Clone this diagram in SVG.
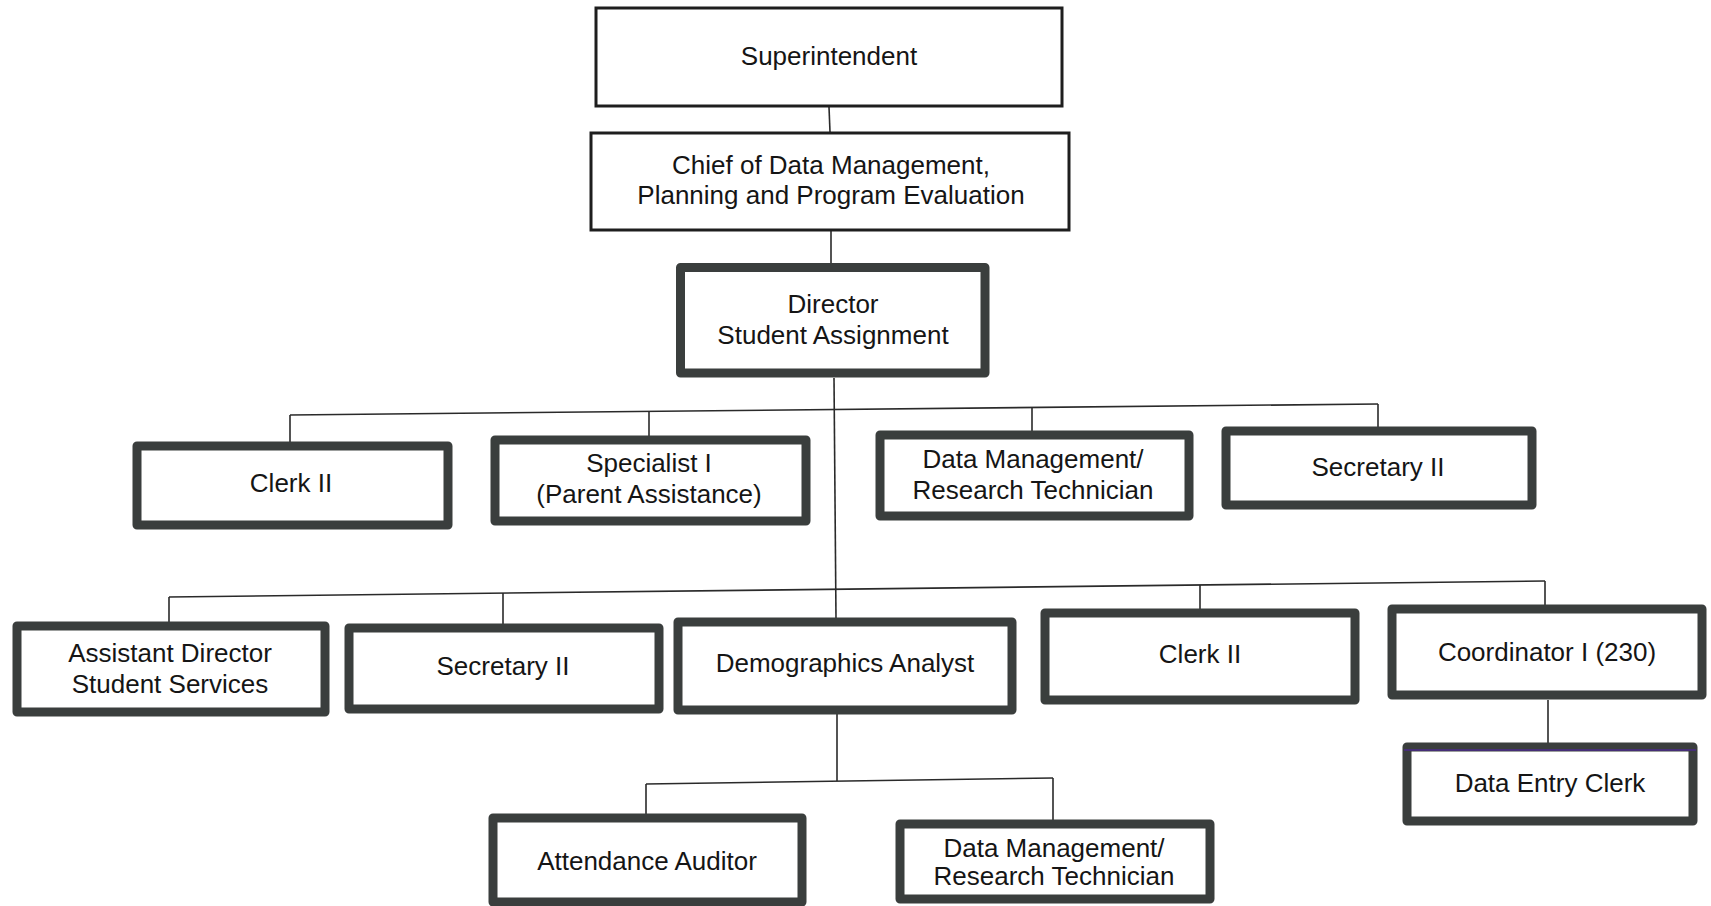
<svg xmlns="http://www.w3.org/2000/svg" width="1711" height="906" viewBox="0 0 1711 906">
<style>
.bg{fill:#ffffff}
.thin{fill:#ffffff;stroke:#1e1e1e;stroke-width:3}
.thick{fill:#ffffff;stroke:#3a3e3d;stroke-width:9;stroke-linejoin:round}
.lbl{font-family:"Liberation Sans",Arial,sans-serif;font-size:26px;fill:#151515;text-anchor:middle}
.con{fill:none;stroke:#2a2a2a;stroke-width:1.6}
</style>
<rect class="bg" x="0" y="0" width="1711" height="906"/>
<g id="connectors">
<line class="con" x1="829" y1="107" x2="830" y2="132"/>
<line class="con" x1="831" y1="231" x2="831" y2="265"/>
<line class="con" x1="834" y1="378" x2="836" y2="619"/>
<line class="con" x1="290" y1="415" x2="1378" y2="404"/>
<line class="con" x1="290" y1="415" x2="290" y2="443"/>
<line class="con" x1="649" y1="411" x2="649" y2="437"/>
<line class="con" x1="1032" y1="407" x2="1032" y2="431"/>
<line class="con" x1="1378" y1="404" x2="1378" y2="427"/>
<line class="con" x1="169" y1="597" x2="1545" y2="581"/>
<line class="con" x1="169" y1="597" x2="169" y2="622"/>
<line class="con" x1="503" y1="593" x2="503" y2="624"/>
<line class="con" x1="1200" y1="585" x2="1200" y2="609"/>
<line class="con" x1="1545" y1="581" x2="1545" y2="605"/>
<line class="con" x1="1548" y1="700" x2="1548" y2="745"/>
<line class="con" x1="837" y1="714" x2="837" y2="781"/>
<line class="con" x1="646" y1="784" x2="1053" y2="778"/>
<line class="con" x1="646" y1="784" x2="646" y2="815"/>
<line class="con" x1="1053" y1="778" x2="1053" y2="822"/>
</g>
<g id="n-superintendent">
<rect class="thin" x="596" y="8" width="466" height="98"/>
<text class="lbl" x="829" y="65">Superintendent</text>
</g>
<g id="n-chief">
<rect class="thin" x="591" y="133" width="478" height="97"/>
<text class="lbl" x="831" y="174">Chief of Data Management,</text>
<text class="lbl" x="831" y="204">Planning and Program Evaluation</text>
</g>
<g id="n-director">
<rect class="thick" x="680.5" y="267.5" width="304.5" height="105.5"/>
<text class="lbl" x="833" y="313">Director</text>
<text class="lbl" x="833" y="344">Student Assignment</text>
</g>
<g id="n-clerk1">
<rect class="thick" x="137" y="446" width="311" height="79"/>
<text class="lbl" x="291" y="492">Clerk II</text>
</g>
<g id="n-specialist">
<rect class="thick" x="495" y="440" width="311" height="81"/>
<text class="lbl" x="649" y="472">Specialist I</text>
<text class="lbl" x="649" y="503">(Parent Assistance)</text>
</g>
<g id="n-dmrt1">
<rect class="thick" x="880" y="435" width="309" height="81"/>
<text class="lbl" x="1033" y="468">Data Management/</text>
<text class="lbl" x="1033" y="499">Research Technician</text>
</g>
<g id="n-secretary1">
<rect class="thick" x="1226" y="431" width="306" height="74"/>
<text class="lbl" x="1378" y="476">Secretary II</text>
</g>
<g id="n-asstdir">
<rect class="thick" x="17" y="626" width="308" height="86"/>
<text class="lbl" x="170" y="662">Assistant Director</text>
<text class="lbl" x="170" y="693">Student Services</text>
</g>
<g id="n-secretary2">
<rect class="thick" x="349" y="628" width="310" height="81"/>
<text class="lbl" x="503" y="675">Secretary II</text>
</g>
<g id="n-demographics">
<rect class="thick" x="678" y="622" width="334" height="88"/>
<text class="lbl" x="845" y="672">Demographics Analyst</text>
</g>
<g id="n-clerk2">
<rect class="thick" x="1045" y="613" width="310" height="87"/>
<text class="lbl" x="1200" y="663">Clerk II</text>
</g>
<g id="n-coordinator">
<rect class="thick" x="1392" y="609" width="310" height="86"/>
<text class="lbl" x="1547" y="661">Coordinator I (230)</text>
</g>
<g id="n-dataentry">
<rect class="thick" x="1407" y="747" width="286" height="74"/>
<line x1="1404" y1="750" x2="1696" y2="750" stroke="#4a2a8a" stroke-width="1.5"/>
<text class="lbl" x="1550" y="792">Data Entry Clerk</text>
</g>
<g id="n-attendance">
<rect class="thick" x="493" y="818" width="309" height="84"/>
<text class="lbl" x="647" y="870">Attendance Auditor</text>
</g>
<g id="n-dmrt2">
<rect class="thick" x="900" y="824" width="310" height="75"/>
<text class="lbl" x="1054" y="857">Data Management/</text>
<text class="lbl" x="1054" y="885">Research Technician</text>
</g>
</svg>
